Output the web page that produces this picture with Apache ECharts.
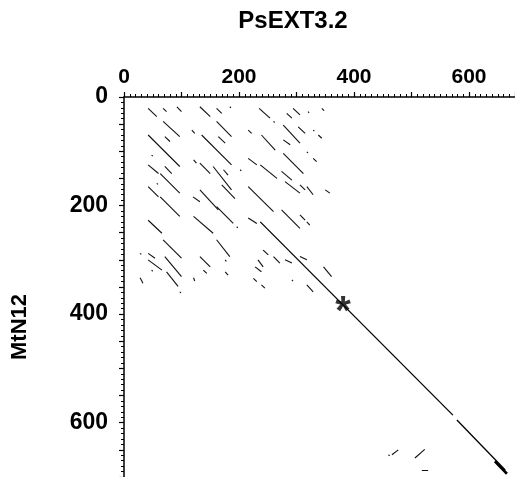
<!DOCTYPE html>
<html>
<head>
<meta charset="utf-8">
<script src="https://cdn.jsdelivr.net/npm/echarts@6/dist/echarts.min.js"></script>
<style>
html,body{margin:0;padding:0;background:#fff;}
#chart{width:515px;height:477px;}
</style>
</head>
<body>
<div id="chart"></div>
<script>
// Axis titles
const titleX = 'PsEXT3.2';
const titleY = 'MtN12';
// Tick labels
const xTickLabels = [0, 200, 400, 600];
const yTickLabels = [0, 200, 400, 600];
const xMax = 680;
const yMax = 700;

// Dot-plot similarity segments: [x1, y1, x2, y2] in residue positions (PsEXT3.2, MtN12)
const segmentsTop = [
  [42,21,57,36],[68,21,74,27],[92,18,100,27],[132,18,150,36],[161,21,170,30],[184,18,186,20],
  [235,21,254,39],[260,45,262,47],[294,21,306,33],[283,30,292,39],[320,27,322,29],[344,21,348,25],
  [68,45,97,73],[71,73,80,82],[118,61,123,67],[161,45,187,73],[164,73,176,85],[216,61,222,67],
  [239,70,263,98],[277,52,306,85],[303,55,315,67],[277,79,289,88],[338,70,344,76],[329,61,331,63]
];
const segmentsMiddle = [
  [42,70,97,128],[135,70,187,125],[216,113,231,125],[277,104,312,141],[329,113,335,119],
  [318,101,320,103],[48,107,50,109],
  [42,125,60,141],[71,128,83,141],[63,141,97,177],[121,116,126,122],[132,122,150,141],
  [155,128,187,171],[173,134,181,144],[202,134,204,136],[237,125,266,150],[274,137,292,153],
  [57,159,59,161],[42,165,60,184],
  [120,184,132,193],[132,171,164,208],[170,162,193,187],[216,165,260,211],[280,156,306,177],
  [306,162,315,171],[318,165,329,180],[350,171,358,177],[63,184,97,220]
];
const segmentsLower = [
  [161,202,190,233],[121,220,155,251],[42,227,66,251],[196,239,198,241],[216,223,231,233],
  [274,208,306,242],[306,217,315,227],[318,230,323,236],
  [68,263,100,297],[161,263,184,294],[306,294,318,300],[242,282,251,291],[260,294,271,306],
  [280,300,292,306],[28,288,30,290],[42,288,54,297],
  [42,300,66,319],[71,294,100,331],[132,294,150,313],[176,300,178,303],[233,300,242,313],
  [228,313,239,322],[347,313,361,331],[138,319,144,325],[176,322,181,328],[48,319,50,321],
  [28,333,33,343],[74,322,94,349],[121,333,123,339],[225,334,231,340],[239,346,245,352],
  [292,337,294,339],[318,346,329,359],[97,359,99,361],
  [460,659,462,661],[466,659,477,650],[506,665,523,649],[518,687,529,687]
];
// Main diagonal (homologous C-terminal region)
const segmentsDiagonal = [
  [237,230,572,586],[579,595,663,687]
];
const diagonalEnd = [[645,671,666,694]];
// Asterisk annotation position
const asterisk = [381,379];

const toLines = arr => arr.map(s => ({coords: [[s[0], s[1]], [s[2], s[3]]]}));

const chart = echarts.init(document.getElementById('chart'), null, {renderer: 'canvas'});
const labelStyle = {color: '#000', fontFamily: 'Liberation Sans', fontWeight: 'bold'};
chart.setOption({
  animation: false,
  backgroundColor: '#fff',
  grid: {left: 124, top: 97, right: 0, bottom: 0, containLabel: false},
  xAxis: [{
    type: 'value', position: 'top', min: 0, max: xMax, interval: 100,
    axisLine: {show: true, onZero: false, lineStyle: {color: '#000', width: 1.5}},
    axisTick: {show: true, length: 5, lineStyle: {color: '#000', width: 1.2}},
    minorTick: {show: true, splitNumber: 10, length: 3, lineStyle: {color: '#000', width: 1, opacity: 1}},
    splitLine: {show: false},
    axisLabel: Object.assign({
      showMaxLabel: false, margin: 9, fontSize: 21,
      formatter: v => xTickLabels.indexOf(v) >= 0 ? String(v) : ''
    }, labelStyle)
  }],
  yAxis: [{
    type: 'value', inverse: true, min: 0, max: yMax, interval: 50,
    axisLine: {show: true, onZero: false, lineStyle: {color: '#000', width: 1.5}},
    axisTick: {show: true, length: 5, lineStyle: {color: '#000', width: 1.2}},
    minorTick: {show: true, splitNumber: 5, length: 3, lineStyle: {color: '#000', width: 1, opacity: 1}},
    splitLine: {show: false},
    axisLabel: Object.assign({
      showMaxLabel: false, margin: 16, fontSize: 23,
      formatter: v => yTickLabels.indexOf(v) >= 0 ? String(v) : ''
    }, labelStyle)
  }],
  graphic: [
    {type: 'text', x: 293, y: 21, style: {text: titleX, fontFamily: 'Liberation Sans', fontWeight: 'bold', fontSize: 24, fill: '#000', textAlign: 'center', textVerticalAlign: 'middle'}},
    {type: 'text', x: 20, y: 327, rotation: Math.PI / 2, style: {text: titleY, fontFamily: 'Liberation Sans', fontWeight: 'bold', fontSize: 22, fill: '#000', textAlign: 'center', textVerticalAlign: 'middle'}}
  ],
  series: [
    {type: 'lines', coordinateSystem: 'cartesian2d', polyline: false, silent: true,
     lineStyle: {color: '#111', width: 1.1, opacity: 1},
     data: toLines(segmentsTop.concat(segmentsMiddle, segmentsLower))},
    {type: 'lines', coordinateSystem: 'cartesian2d', polyline: false, silent: true,
     lineStyle: {color: '#000', width: 1.3, opacity: 1},
     data: toLines(segmentsDiagonal)},
    {type: 'lines', coordinateSystem: 'cartesian2d', polyline: false, silent: true,
     lineStyle: {color: '#000', width: 2.6, opacity: 1},
     data: toLines(diagonalEnd)},
    {type: 'scatter', silent: true, symbolSize: 0, data: [asterisk],
     label: {show: true, position: 'inside', formatter: '*', color: '#000', fontFamily: 'Liberation Sans', fontWeight: 'bold', fontSize: 40, offset: [0, 10]}}
  ]
});
</script>
</body>
</html>
